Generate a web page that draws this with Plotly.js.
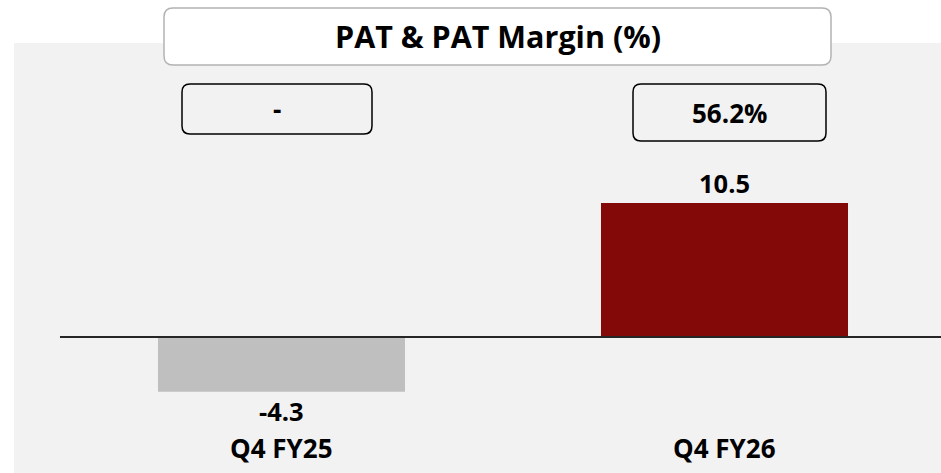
<!DOCTYPE html>
<html>
<head>
<meta charset="utf-8">
<script src="https://cdn.plot.ly/plotly-3.0.1.min.js"></script>
<style>html,body{margin:0;padding:0;background:#fff;}#chart{width:941px;height:473px;}</style>
</head>
<body>
<div id="chart"></div>
<script>
// ---- data ----
const categories = ["Q4 FY25", "Q4 FY26"];
const patValues = [-4.3, 10.5];
const patLabels = ["-4.3", "10.5"];
const marginLabels = ["-", "56.2%"];
const barColors = ["#bfbfbf", "#830808"];
const chartTitle = "PAT & PAT Margin (%)";

// ---- layout helpers (pixel -> paper) ----
const W = 941, H = 473;
const mL = 14, mR = 0, mT = 43, mB = 0;
const pw = W - mL - mR, ph = H - mT - mB;
const px = x => (x - mL) / pw;
const py = y => (H - mB - y) / ph;

function roundRect(x0, y0, x1, y1, r) {
  const X = v => px(v).toFixed(5), Y = v => py(v).toFixed(5);
  return `M ${X(x0 + r)} ${Y(y0)} L ${X(x1 - r)} ${Y(y0)} Q ${X(x1)} ${Y(y0)} ${X(x1)} ${Y(y0 + r)} ` +
         `L ${X(x1)} ${Y(y1 - r)} Q ${X(x1)} ${Y(y1)} ${X(x1 - r)} ${Y(y1)} ` +
         `L ${X(x0 + r)} ${Y(y1)} Q ${X(x0)} ${Y(y1)} ${X(x0)} ${Y(y1 - r)} ` +
         `L ${X(x0)} ${Y(y0 + r)} Q ${X(x0)} ${Y(y0)} ${X(x0 + r)} ${Y(y0)} Z`;
}

const font = {family: "Open Sans, Noto Sans, sans-serif", color: "#000000", weight: 700};
const f = s => Object.assign({}, font, {size: s});
const boxes = [[182, 84, 372, 134], [633, 84, 826, 141]];

const shapes = [
  {type: "path", xref: "paper", yref: "paper", path: roundRect(164, 8, 831, 65, 9),
   line: {color: "#b3b3b3", width: 1.5}, fillcolor: "#ffffff", layer: "above"},
  {type: "line", xref: "x", yref: "y", x0: -0.5, x1: 1.49, y0: 0, y1: 0,
   line: {color: "#262626", width: 1.8}, layer: "above"}
];
boxes.forEach(b => shapes.push({type: "path", xref: "paper", yref: "paper",
  path: roundRect(b[0], b[1], b[2], b[3], 8), line: {color: "#000000", width: 1.5},
  fillcolor: "rgba(0,0,0,0)", layer: "above"}));

const annotations = [
  {xref: "paper", yref: "paper", x: px(497.5), y: py(36), text: chartTitle, showarrow: false,
   xanchor: "center", yanchor: "middle", font: f(30.5)}
];
marginLabels.forEach((t, i) => {
  const b = boxes[i];
  annotations.push({xref: "paper", yref: "paper", x: px((b[0] + b[2]) / 2), y: py((b[1] + b[3]) / 2),
    text: t, showarrow: false, xanchor: "center", yanchor: "middle", font: f(26)});
});
patValues.forEach((v, i) => {
  annotations.push({xref: "x", yref: "y", x: categories[i], y: v, text: patLabels[i], showarrow: false,
    xanchor: "center", yanchor: "middle", yshift: v >= 0 ? 20 : -19, font: f(25.5)});
  annotations.push({xref: "x", yref: "paper", x: categories[i], y: py(448), text: categories[i], showarrow: false,
    xanchor: "center", yanchor: "middle", font: f(26)});
});

const trace = {
  type: "bar", x: categories, y: patValues, width: 0.5576,
  marker: {color: barColors, line: {width: 0}}, hoverinfo: "skip"
};

const layout = {
  width: W, height: H,
  margin: {l: mL, r: mR, t: mT, b: mB, pad: 0},
  paper_bgcolor: "#ffffff", plot_bgcolor: "#f2f2f2",
  showlegend: false,
  xaxis: {type: "category", range: [-0.6038, 1.4887], showticklabels: false, showgrid: false,
          zeroline: false, showline: false, ticks: "", fixedrange: true},
  yaxis: {range: [-10.66, 23.04], showticklabels: false, showgrid: false, zeroline: false,
          showline: false, ticks: "", fixedrange: true},
  shapes: shapes, annotations: annotations
};

Plotly.newPlot("chart", [trace], layout, {displayModeBar: false, staticPlot: true});
</script>
</body>
</html>
